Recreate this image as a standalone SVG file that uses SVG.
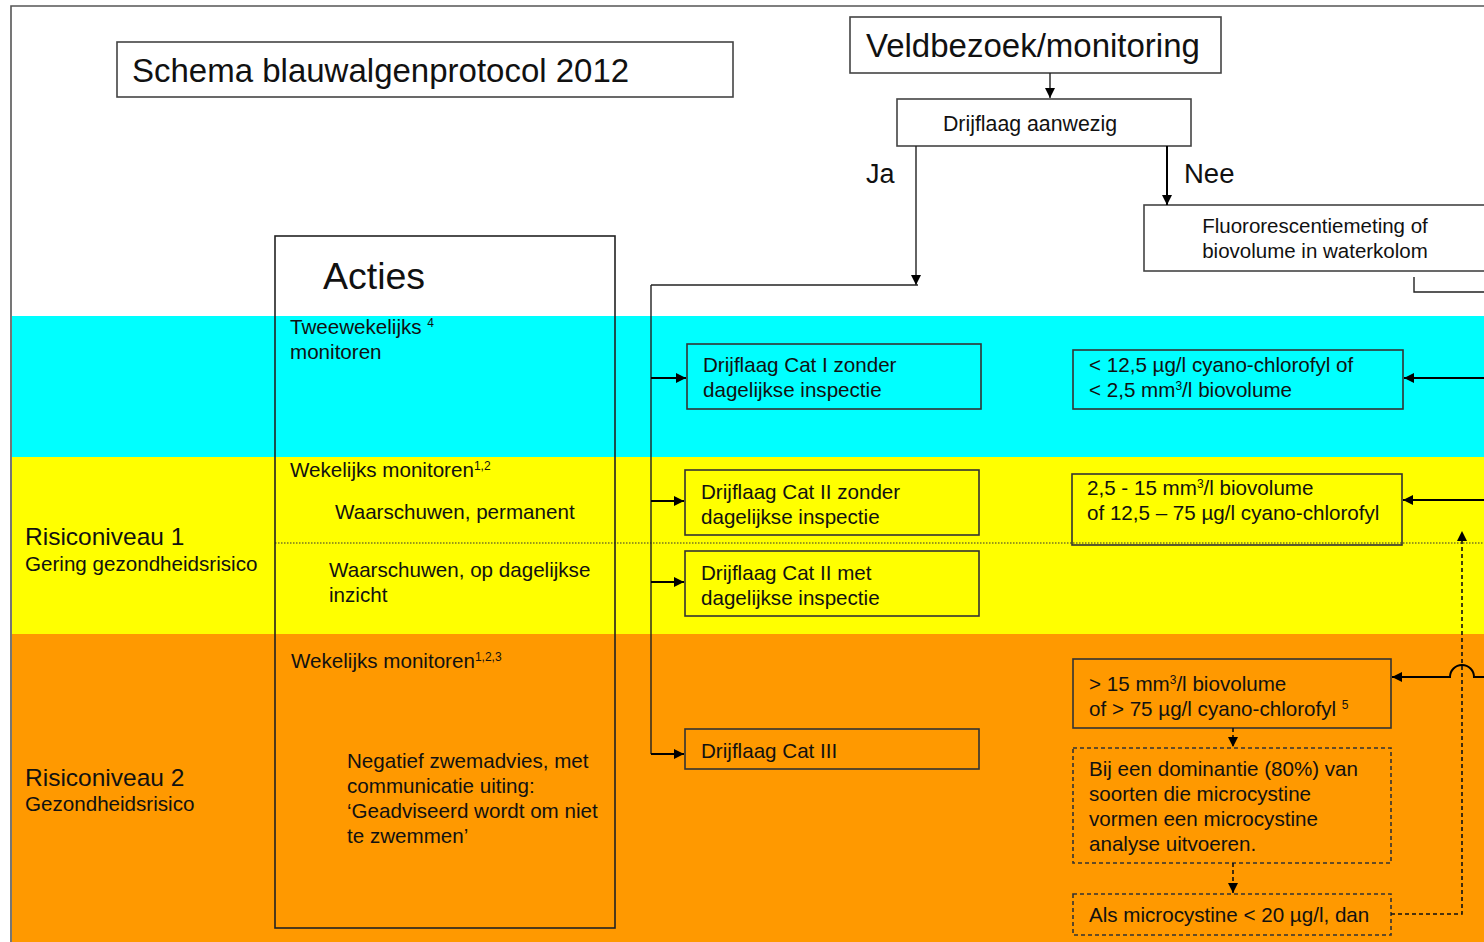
<svg xmlns="http://www.w3.org/2000/svg" width="1484" height="942" viewBox="0 0 1484 942">
<defs>
<marker id="ah" viewBox="0 0 10 10" refX="10" refY="5" markerWidth="10" markerHeight="10" markerUnits="userSpaceOnUse" orient="auto">
<path d="M0,0 L10,5 L0,10 z" fill="#000"/>
</marker>
<style>
text{font-family:"Liberation Sans",Arial,sans-serif;fill:#111}
.box{fill:none;stroke:#333;stroke-width:1.6}
.dbox{fill:none;stroke:#333;stroke-width:1.6;stroke-dasharray:4 3}
.wbox{fill:#fff;stroke:#444;stroke-width:1.6}
.t19{font-size:20.6px}
.t20{font-size:20.6px}
.ln{fill:none;stroke:#000;stroke-width:2}
.thin{fill:none;stroke:#222;stroke-width:1.4}
.dash{fill:none;stroke:#111;stroke-width:1.6;stroke-dasharray:4 3}
</style>
</defs>
<rect x="0" y="0" width="1484" height="942" fill="#fff"/>
<!-- bands -->
<rect x="12" y="316" width="1472" height="141" fill="#00FFFF"/>
<rect x="12" y="457" width="1472" height="177" fill="#FFFF00"/>
<rect x="12" y="634" width="1472" height="308" fill="#FF9900"/>
<line x1="275" y1="543" x2="1484" y2="543" stroke="#333" stroke-width="1.2" stroke-dasharray="1.5 1.5"/>
<!-- frame -->
<path d="M11,942 V6 H1484" fill="none" stroke="#555" stroke-width="1.6"/>

<g id="title">
<rect x="117" y="42" width="616" height="55" class="wbox"/>
<text x="132" y="82" font-size="33">Schema blauwalgenprotocol 2012</text>
</g>
<g id="veldbezoek">
<rect x="850" y="17" width="371" height="56" class="wbox"/>
<text x="866" y="57" font-size="33">Veldbezoek/monitoring</text>
</g>
<g id="drijflaag">
<rect x="897" y="99" width="294" height="47" class="wbox"/>
<text x="1030" y="131" font-size="21.3" text-anchor="middle">Drijflaag aanwezig</text>
</g>
<g id="fluor">
<rect x="1144" y="205" width="345" height="66" class="wbox"/>
<text x="1315" y="233" font-size="20.5" text-anchor="middle">Fluororescentiemeting of</text>
<text x="1315" y="258" font-size="20.5" text-anchor="middle">biovolume in waterkolom</text>
</g>
<g id="labels">
<text x="866" y="183" font-size="27">Ja</text>
<text x="1184" y="183" font-size="27.5">Nee</text>
</g>
<g id="acties">
<rect x="275" y="236" width="340" height="692" fill="none" stroke="#222" stroke-width="1.6"/>
<text x="323" y="289" font-size="37.5">Acties</text>
<text x="290" y="334" class="t19">Tweewekelijks <tspan font-size="12" dy="-7">4</tspan></text>
<text x="290" y="359" class="t19">monitoren</text>
<text x="290" y="477" class="t19">Wekelijks monitoren<tspan font-size="12" dy="-7">1,2</tspan></text>
<text x="335" y="519" class="t19">Waarschuwen, permanent</text>
<text x="329" y="577" class="t19">Waarschuwen, op dagelijkse</text>
<text x="329" y="602" class="t19">inzicht</text>
<text x="291" y="668" class="t19">Wekelijks monitoren<tspan font-size="12" dy="-7">1,2,3</tspan></text>
<text x="347" y="768" class="t19">Negatief zwemadvies, met</text>
<text x="347" y="793" class="t19">communicatie uiting:</text>
<text x="347" y="818" class="t19">‘Geadviseerd wordt om niet</text>
<text x="347" y="843" class="t19">te zwemmen’</text>
</g>
<g id="risico1">
<text x="25" y="545" font-size="24.5">Risiconiveau 1</text>
<text x="25" y="571" class="t19">Gering gezondheidsrisico</text>
</g>
<g id="risico2">
<text x="25" y="786" font-size="24.5">Risiconiveau 2</text>
<text x="25" y="811" class="t19">Gezondheidsrisico</text>
</g>
<g id="cat1">
<rect x="687" y="344" width="294" height="65" class="box"/>
<text x="703" y="372" class="t20">Drijflaag Cat I zonder</text>
<text x="703" y="397" class="t20">dagelijkse inspectie</text>
</g>
<g id="cat2z">
<rect x="685" y="470" width="294" height="65" class="box"/>
<text x="701" y="499" class="t20">Drijflaag Cat II zonder</text>
<text x="701" y="524" class="t20">dagelijkse inspectie</text>
</g>
<g id="cat2m">
<rect x="685" y="551" width="294" height="65" class="box"/>
<text x="701" y="580" class="t20">Drijflaag Cat II met</text>
<text x="701" y="605" class="t20">dagelijkse inspectie</text>
</g>
<g id="cat3">
<rect x="685" y="729" width="294" height="40" class="box"/>
<text x="701" y="758" class="t20">Drijflaag Cat III</text>
</g>
<g id="crit1">
<rect x="1073" y="350" width="330" height="59" class="box"/>
<text x="1089" y="372" class="t20">&lt; 12,5 µg/l cyano-chlorofyl of</text>
<text x="1089" y="397" class="t20">&lt; 2,5 mm<tspan font-size="12" dy="-7">3</tspan><tspan dy="7">/l biovolume</tspan></text>
</g>
<g id="crit2">
<rect x="1072" y="474" width="330" height="71" class="box"/>
<text x="1087" y="495" class="t20">2,5 - 15 mm<tspan font-size="12" dy="-7">3</tspan><tspan dy="7">/l biovolume</tspan></text>
<text x="1087" y="520" class="t20">of 12,5 – 75 µg/l cyano-chlorofyl</text>
</g>
<g id="crit3">
<rect x="1073" y="659" width="318" height="69" class="box"/>
<text x="1089" y="691" class="t20">&gt; 15 mm<tspan font-size="12" dy="-7">3</tspan><tspan dy="7">/l biovolume</tspan></text>
<text x="1089" y="716" class="t20">of &gt; 75 µg/l cyano-chlorofyl <tspan font-size="12" dy="-7">5</tspan></text>
</g>
<g id="dominantie">
<rect x="1073" y="748" width="318" height="115" class="dbox"/>
<text x="1089" y="776" class="t20">Bij een dominantie (80%) van</text>
<text x="1089" y="801" class="t20">soorten die microcystine</text>
<text x="1089" y="826" class="t20">vormen een microcystine</text>
<text x="1089" y="851" class="t20">analyse uitvoeren.</text>
</g>
<g id="microcystine">
<rect x="1073" y="894" width="318" height="41" class="dbox"/>
<text x="1089" y="922" class="t20">Als microcystine &lt; 20 µg/l, dan</text>
</g>
<g id="connectors">
<line x1="1050" y1="73" x2="1050" y2="98" class="thin" marker-end="url(#ah)"/>
<line x1="916" y1="146" x2="916" y2="285" class="thin" marker-end="url(#ah)"/>
<path d="M651,285 H918" class="thin"/>
<path d="M651,285 V754" class="thin"/>
<line x1="1167" y1="146" x2="1167" y2="205" class="ln" marker-end="url(#ah)"/>
<line x1="651" y1="378" x2="686" y2="378" class="ln" marker-end="url(#ah)"/>
<line x1="651" y1="501" x2="684" y2="501" class="ln" marker-end="url(#ah)"/>
<line x1="651" y1="582" x2="684" y2="582" class="ln" marker-end="url(#ah)"/>
<line x1="651" y1="754" x2="684" y2="754" class="ln" marker-end="url(#ah)"/>
<path d="M1414,277 V292 H1484" class="thin"/>
<line x1="1484" y1="378" x2="1404" y2="378" class="ln" marker-end="url(#ah)"/>
<line x1="1484" y1="500" x2="1403" y2="500" class="ln" marker-end="url(#ah)"/>
<path d="M1484,677 H1474 A12,12 0 0 0 1450,677 H1392" class="ln" marker-end="url(#ah)"/>
<line x1="1233" y1="728" x2="1233" y2="747" class="dash" marker-end="url(#ah)"/>
<line x1="1233" y1="863" x2="1233" y2="893" class="dash" marker-end="url(#ah)"/>
<path d="M1391,914 H1462 V531" class="dash" marker-end="url(#ah)"/>
</g>
</svg>
